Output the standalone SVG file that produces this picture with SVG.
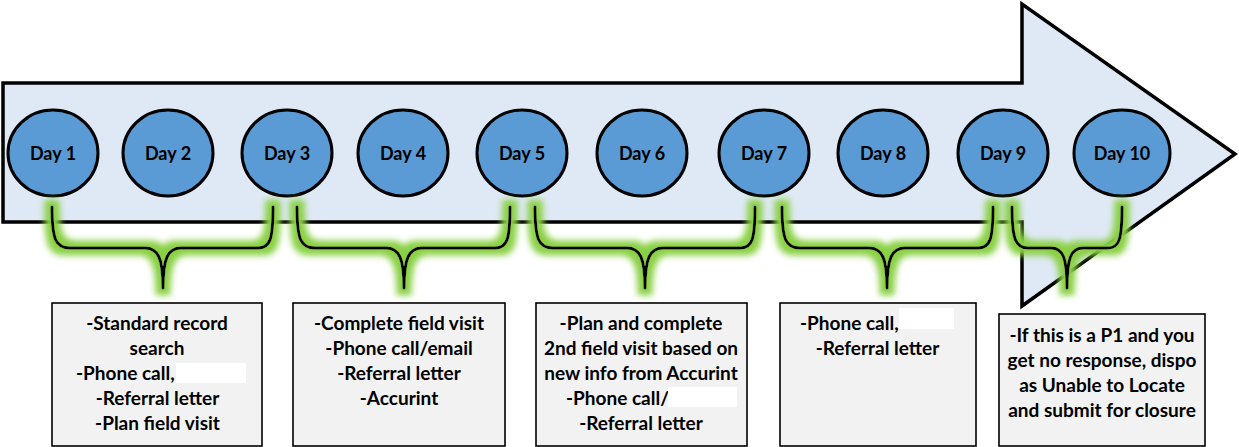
<svg xmlns="http://www.w3.org/2000/svg" width="1239" height="447" viewBox="0 0 1239 447">
  <defs>
    <style>
      .day ellipse { fill: #5b9bd5; stroke: #000; stroke-width: 3; }
      .day text { font-family: Lato, "Liberation Sans", sans-serif; font-weight: 700; font-size: 18px; fill: #000; text-anchor: middle; }
      .note rect.box { fill: #f2f2f2; stroke: #000; stroke-width: 1.6; }
      .note rect.blank { fill: #fff; stroke: none; }
      .note text { font-family: Lato, "Liberation Sans", sans-serif; font-weight: 700; font-size: 19px; fill: #000; text-anchor: middle; }
      .brace { fill: none; stroke: #000; stroke-width: 3; stroke-linejoin: round; stroke-linecap: round; filter: url(#glow); }
    </style>
    <filter id="glow" x="-20%" y="-40%" width="140%" height="180%">
      <feMorphology in="SourceAlpha" operator="dilate" radius="5.5" result="fat"/>
      <feGaussianBlur in="fat" stdDeviation="3.2" result="soft"/>
      <feFlood flood-color="#8ad044" flood-opacity="1"/>
      <feComposite in2="soft" operator="in" result="halo"/>
      <feMerge>
        <feMergeNode in="halo"/>
        <feMergeNode in="SourceGraphic"/>
      </feMerge>
    </filter>
  </defs>

  <!-- timeline arrow -->
  <g id="timeline">
    <polygon points="3,83 1022,83 1022,4 1235,154 1022,306 1022,222 3,222" fill="#dee9f5" stroke="#000" stroke-width="3.5" stroke-linejoin="miter"/>
  </g>

  <!-- day markers -->
  <g id="day1" class="day"><ellipse cx="53" cy="153" rx="45" ry="43"/><text x="53" y="160">Day 1</text></g>
  <g id="day2" class="day"><ellipse cx="168" cy="153" rx="45" ry="43"/><text x="168" y="160">Day 2</text></g>
  <g id="day3" class="day"><ellipse cx="287" cy="153" rx="45" ry="43"/><text x="287" y="160">Day 3</text></g>
  <g id="day4" class="day"><ellipse cx="403" cy="153" rx="45" ry="43"/><text x="403" y="160">Day 4</text></g>
  <g id="day5" class="day"><ellipse cx="522" cy="153" rx="45" ry="43"/><text x="522" y="160">Day 5</text></g>
  <g id="day6" class="day"><ellipse cx="642" cy="153" rx="45" ry="43"/><text x="642" y="160">Day 6</text></g>
  <g id="day7" class="day"><ellipse cx="764" cy="153" rx="45" ry="43"/><text x="764" y="160">Day 7</text></g>
  <g id="day8" class="day"><ellipse cx="883" cy="153" rx="45" ry="43"/><text x="883" y="160">Day 8</text></g>
  <g id="day9" class="day"><ellipse cx="1003" cy="153" rx="45" ry="43"/><text x="1003" y="160">Day 9</text></g>
  <g id="day10" class="day"><ellipse cx="1122" cy="153" rx="48" ry="43"/><text x="1122" y="160">Day 10</text></g>

  <!-- braces grouping days to their tasks -->
  <g id="connectors">
    <path class="brace" d="M52,207 C52,240 56,248 70,248 L145,248 C158,248 163,258 163,288 C163,258 168,248 181,248 L258,248 C270,248 273,240 273,207"/>
    <path class="brace" d="M297,207 C297,240 301,248 315,248 L386,248 C399,248 404,258 404,288 C404,258 409,248 422,248 L495,248 C507,248 510,240 510,207"/>
    <path class="brace" d="M535,207 C535,240 539,248 553,248 L627,248 C640,248 645,258 645,288 C645,258 650,248 663,248 L740,248 C752,248 755,240 755,207"/>
    <path class="brace" d="M782,207 C782,240 786,248 800,248 L869,248 C882,248 887,258 887,288 C887,258 892,248 905,248 L978,248 C990,248 993,240 993,207"/>
    <path class="brace" d="M1012,207 C1012,240 1016,248 1028,248 L1051,248 C1063,248 1067,258 1067,288 C1067,258 1071,248 1083,248 L1108,248 C1119,248 1122,240 1122,207"/>
  </g>

  <!-- task notes -->
  <g id="note1" class="note">
    <rect class="box" x="52" y="303" width="210" height="143"/>
    <text x="157" y="330">-Standard record</text>
    <text x="157" y="355">search</text>
    <text x="76" y="380" style="text-anchor:start">-Phone call,</text>
    <rect class="blank" x="176" y="363" width="70" height="20"/>
    <text x="157.5" y="405">-Referral letter</text>
    <text x="157.5" y="430">-Plan field visit</text>
  </g>
  <g id="note2" class="note">
    <rect class="box" x="293" y="303" width="212" height="143"/>
    <text x="399" y="330">-Complete field visit</text>
    <text x="399" y="355">-Phone call/email</text>
    <text x="399" y="380">-Referral letter</text>
    <text x="399" y="405">-Accurint</text>
  </g>
  <g id="note3" class="note">
    <rect class="box" x="536" y="303" width="211" height="143"/>
    <text x="641" y="330">-Plan and complete</text>
    <text x="641" y="355">2nd field visit based on</text>
    <text x="641" y="380">new info from Accurint</text>
    <text x="566" y="405" style="text-anchor:start">-Phone call/</text>
    <rect class="blank" x="668" y="387" width="69" height="20"/>
    <text x="641" y="430">-Referral letter</text>
  </g>
  <g id="note4" class="note">
    <rect class="box" x="780" y="303" width="196" height="143"/>
    <text x="800" y="330" style="text-anchor:start">-Phone call,</text>
    <rect class="blank" x="899" y="308" width="55" height="21"/>
    <text x="877.5" y="355">-Referral letter</text>
  </g>
  <g id="note5" class="note">
    <rect class="box" x="999" y="314" width="206" height="132"/>
    <text x="1102" y="342">-If this is a P1 and you</text>
    <text x="1102" y="367">get no response, dispo</text>
    <text x="1102" y="392">as Unable to Locate</text>
    <text x="1102" y="417">and submit for closure</text>
  </g>
</svg>
